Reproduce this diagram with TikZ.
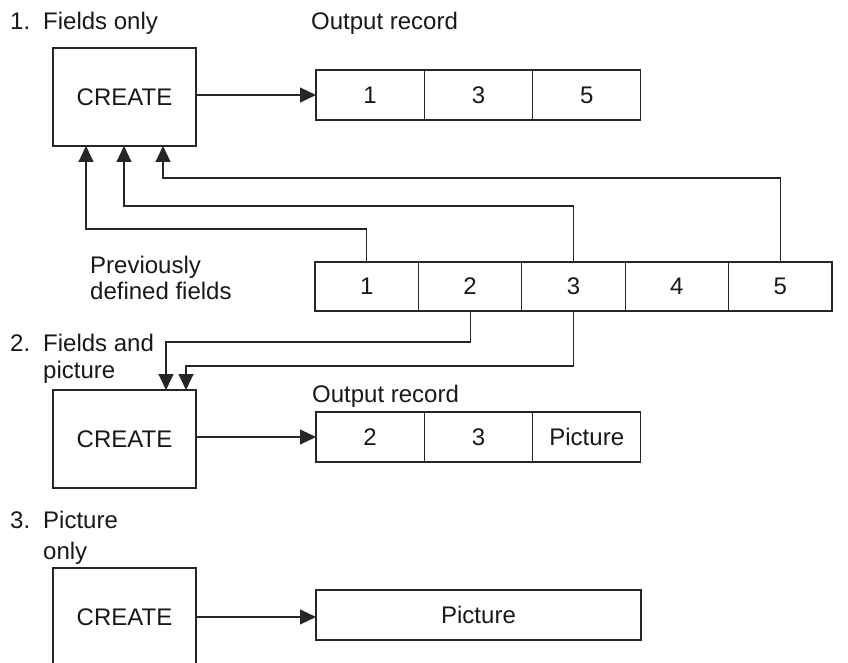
\documentclass[tikz,border=0pt]{standalone}
\usepackage{fontspec}
\setmainfont{Liberation Sans}
\usetikzlibrary{arrows.meta,calc}
\newcommand\labfont{\fontsize{24}{28}\selectfont}
\begin{document}
\begin{tikzpicture}[x=1pt,y=-1pt,
  every node/.style={font=\labfont, text=black!90},
  ln/.style={draw=black!85, line width=1.1pt},
  box/.style={ln, minimum width=143pt, minimum height=98pt, inner sep=0pt, outer sep=0pt},
  cellA/.style={ln, minimum width=108.3pt, minimum height=50pt, inner sep=0pt, outer sep=0pt},
  cellB/.style={ln, minimum width=103.4pt, minimum height=49pt, inner sep=0pt, outer sep=0pt},
  lbl/.style={anchor=base west, inner sep=0pt},
  arr/.style={ln, -{Triangle[length=16pt,width=15pt]}}]
\useasboundingbox (0,0) rectangle (848,663);
\clip (0,0) rectangle (848,663);
\fill[white] (0,0) rectangle (848,663);

% labels
\node[lbl] (n1) at (10,30) {1.};
\node[lbl] (t1) at (43,30) {Fields only};
\node[lbl] (or1) at (311,30) {Output record};
\node[lbl] (pv1) at (90,273) {Previously};
\node[lbl] (pv2) at (90,299) {defined fields};
\node[lbl] (n2) at (10,351) {2.};
\node[lbl] (t2a) at (43,351) {Fields and};
\node[lbl] (t2b) at (43,378) {picture};
\node[lbl] (or2) at (312,402) {Output record};
\node[lbl] (n3) at (10,528) {3.};
\node[lbl] (t3a) at (43,528) {Picture};
\node[lbl] (t3b) at (43,559) {only};

% CREATE boxes
\node[box] (c1) at (124.5,97) {CREATE};
\node[box] (c2) at (124.5,439) {CREATE};
\node[box] (c3) at (124.5,617) {CREATE};

% output record 1
\node[cellA] (r1a) at (370.15,95) {1};
\node[cellA] (r1b) at (478.45,95) {3};
\node[cellA] (r1c) at (586.75,95) {5};

% previously defined fields
\node[cellB] (p1) at (366.7,286.5) {1};
\node[cellB] (p2) at (470.1,286.5) {2};
\node[cellB] (p3) at (573.5,286.5) {3};
\node[cellB] (p4) at (676.9,286.5) {4};
\node[cellB] (p5) at (780.3,286.5) {5};

% output record 2
\node[cellA] (r2a) at (370.15,437) {2};
\node[cellA] (r2b) at (478.45,437) {3};
\node[cellA] (r2c) at (586.75,437) {Picture};

% picture only
\node[ln, minimum width=325pt, minimum height=50pt, inner sep=0pt, outer sep=0pt] (q) at (478.5,615) {Picture};

% horizontal arrows
\draw[arr] (c1.east |- r1a.west) -- (r1a.west);
\draw[arr] (c2.east |- r2a.west) -- (r2a.west);
\draw[arr] (c3.east) -- (q.west |- c3.east);

% fields to CREATE 1
\coordinate (k1) at ($(c1.south west)+(33,83)$);
\coordinate (k3) at ($(c1.south west)+(71,60)$);
\coordinate (k5) at ($(c1.south west)+(110,32)$);
\draw[arr] (p1.north) |- (k1) -- (k1 |- c1.south);
\draw[arr] (p3.north) |- (k3) -- (k3 |- c1.south);
\draw[arr] (p5.north) |- (k5) -- (k5 |- c1.south);

% fields to CREATE 2
\coordinate (m2) at ($(c2.north west)+(113,-48)$);
\coordinate (m3) at ($(c2.north west)+(133,-24)$);
\draw[arr] (p2.south) |- (m2) -- (m2 |- c2.north);
\draw[arr] (p3.south) |- (m3) -- (m3 |- c2.north);
\end{tikzpicture}
\end{document}
